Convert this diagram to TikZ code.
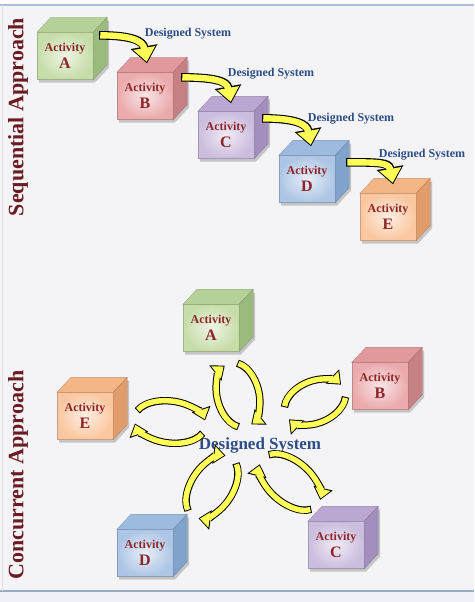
\documentclass[tikz,border=0pt]{standalone}
\usepackage{fontspec}
\setmainfont{Liberation Serif}
\usepackage{tikz}
\usetikzlibrary{arrows.meta,calc}
\definecolor{paper}{HTML}{F4F4F6}
\definecolor{rimblue}{HTML}{A9BFDA}
\definecolor{actred}{HTML}{8E2428}
\definecolor{sidered}{HTML}{6B1B22}
\definecolor{sysblue}{HTML}{2D4D86}
\definecolor{arrowyellow}{HTML}{FFFF55}
\definecolor{greenF}{HTML}{C6DDA9}
\definecolor{greenT}{HTML}{B6D197}
\definecolor{greenS}{HTML}{9BBA7E}
\definecolor{redF}{HTML}{EBAAAD}
\definecolor{redT}{HTML}{E1999C}
\definecolor{redS}{HTML}{C78083}
\definecolor{purpF}{HTML}{CBBDDE}
\definecolor{purpT}{HTML}{BAA8D2}
\definecolor{purpS}{HTML}{A38FBD}
\definecolor{blueF}{HTML}{ADC6E5}
\definecolor{blueT}{HTML}{9DBADF}
\definecolor{blueS}{HTML}{81A2CB}
\definecolor{orngF}{HTML}{FAC7A0}
\definecolor{orngT}{HTML}{F5B687}
\definecolor{orngS}{HTML}{E09C6B}
% cube: name, centre of front face, front, top, side colour, letter
\newcommand{\actcube}[6]{%
  \fill[cubeshadow,shift={(#2)}] (-26,-26.5) -- (30,-26.5) -- (44,-11.5) -- (44,35.5) -- (-12,35.5) -- (-26,20.5) -- cycle;
  \node[cubeface,draw=#3!80!black,inner color=#3!30!white,outer color=#3] (#1) at (#2) {Activity\\[3pt]{\letterfont #6}};
  \filldraw[fill=#4,draw=#4!80!black,line width=0.3pt] (#1.north west) -- ++(14,15) -- ([shift={(14,15)}]#1.north east) -- (#1.north east) -- cycle;
  \filldraw[fill=#5,draw=#5!80!black,line width=0.3pt] (#1.north east) -- ++(14,15) -- ([shift={(14,15)}]#1.south east) -- (#1.south east) -- cycle;
}
% pair of turning arrows: centre, angle, half length
\newcommand{\cyclepair}[3]{%
  \begin{scope}[shift={(#1)},rotate=#2]
    \draw[cycarrow] ({#3*cos(160)},{21*sin(160)}) arc[start angle=160,end angle=16,x radius=#3,y radius=21];
    \draw[cycarrow] ({#3*cos(-20)},{21*sin(-20)}) arc[start angle=-20,end angle=-164,x radius=#3,y radius=21];
  \end{scope}
}
\newcommand{\letterfont}{\fontsize{16}{17}\selectfont}

\begin{document}
\begin{tikzpicture}[x=1pt,y=1pt]
  \path[use as bounding box] (0,0) rectangle (474,-602);
  \tikzset{
    cubeface/.style={rectangle,minimum width=56pt,minimum height=47pt,inner sep=1pt,line width=0.3pt,align=center,text=actred,font=\bfseries\fontsize{12}{13}\selectfont},
    cubeshadow/.style={fill=black!45,opacity=0.45},
    seqarrow/.style={preaction={draw=black,line width=8.6pt,shorten >=0pt,shorten <=0pt,-{Triangle[length=17pt 0 0,width=26pt 0 0]}},
      draw=arrowyellow,line width=6.4pt,shorten >=1.6pt,shorten <=1.1pt,-{Triangle[length=14pt 0 0,width=21.5pt 0 0]}},
    cycarrow/.style={preaction={draw=black,line width=7.4pt,shorten >=0pt,shorten <=0pt,-{Triangle[length=12pt 0 0,width=19pt 0 0]}},
      draw=arrowyellow,line width=5.4pt,shorten >=1.4pt,shorten <=1pt,-{Triangle[length=9.6pt 0 0,width=15pt 0 0]}},
    syslabel/.style={text=sysblue,font=\bfseries\fontsize{12}{14}\selectfont,inner sep=1pt},
    sidelabel/.style={text=sidered,rotate=90,font=\bfseries\fontsize{22}{24}\selectfont}
  }
  % frame
  \fill[paper] (0,-5) rectangle (474,-591);
  \fill[white!80!rimblue] (0,-591) rectangle (474,-602);
  \draw[rimblue,line width=2pt] (0,-5) -- (474,-5);
  \draw[rimblue!90!black,line width=2pt] (0,-591) -- (474,-591);
  \draw[black!12,line width=0.8pt] (2,-5) -- (2,-591);

  % sequential approach
  \node[sidelabel] (seq) at (18,-117) {Sequential Approach};
  \actcube{sA}{65,-56}{greenF}{greenT}{greenS}{A}
  \actcube{sB}{145,-96}{redF}{redT}{redS}{B}
  \actcube{sC}{226,-135}{purpF}{purpT}{purpS}{C}
  \actcube{sD}{307,-179}{blueF}{blueT}{blueS}{D}
  \actcube{sE}{388,-217}{orngF}{orngT}{orngS}{E}
  \draw[seqarrow] ($(sA.north east)+(6,-3)$) .. controls +(34,0) and +(-4,22) .. ($(sB.north)+(2,9)$);
  \draw[seqarrow] ($(sB.north east)+(8,-5)$) .. controls +(34,0) and +(-4,22) .. ($(sC.north)+(5,8)$);
  \draw[seqarrow] ($(sC.north east)+(8,-7)$) .. controls +(34,0) and +(-4,22) .. ($(sD.north)+(4,9)$);
  \draw[seqarrow] ($(sD.north east)+(11,-7)$) .. controls +(32,0) and +(-4,22) .. ($(sE.north)+(5,9)$);
  \node[syslabel] (ds1) at (188,-34) {Designed System};
  \node[syslabel] (ds2) at (271,-74) {Designed System};
  \node[syslabel] (ds3) at (351,-119) {Designed System};
  \node[syslabel] (ds4) at (422,-155) {Designed System};

  % concurrent approach
  \node[sidelabel] (con) at (18,-475) {Concurrent Approach};
  \actcube{cA}{211,-328}{greenF}{greenT}{greenS}{A}
  \actcube{cB}{380,-386}{redF}{redT}{redS}{B}
  \actcube{cC}{336,-545}{purpF}{purpT}{purpS}{C}
  \actcube{cD}{145,-553}{blueF}{blueT}{blueS}{D}
  \actcube{cE}{85,-416}{orngF}{orngT}{orngS}{E}
  \node[syslabel,font=\bfseries\fontsize{17}{20}\selectfont] (ds) at (260,-445) {Designed System};
  \cyclepair{238,-395}{104}{33}
  \cyclepair{315,-402}{23}{32}
  \cyclepair{290,-482}{320}{36}
  \cyclepair{212,-487}{237}{35}
  \cyclepair{170,-422}{173}{36}
\end{tikzpicture}
\end{document}
